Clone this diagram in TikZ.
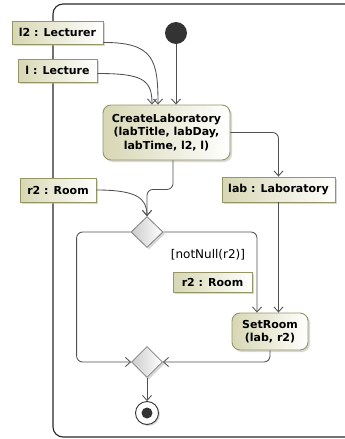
\documentclass[tikz,border=0pt]{standalone}
\usepackage{fontspec}
\setmainfont{DejaVu Sans}
\usetikzlibrary{shapes.geometric,arrows.meta,shadows}
\definecolor{objfill}{RGB}{215,215,180}
\definecolor{objline}{RGB}{150,150,100}
\definecolor{flowline}{RGB}{80,80,80}
\begin{document}
\begin{tikzpicture}[x=1pt,y=-1pt,
  obj/.style={draw=objline,line width=.9pt,left color=objfill,right color=white,
    font=\bfseries\fontsize{11}{13.5}\selectfont,inner sep=0pt,
    drop shadow={shadow xshift=2pt,shadow yshift=-2pt,fill=black!30}},
  act/.style={obj,rounded corners=8pt,align=center},
  decide/.style={diamond,draw=black!50,line width=.8pt,left color=black!20,right color=white,
    minimum width=32pt,minimum height=31pt,inner sep=0pt,
    drop shadow={shadow xshift=2pt,shadow yshift=-2pt,fill=black!30}},
  flow/.style={draw=flowline,line width=.85pt,-{Straight Barb[length=5pt,width=9pt]}}]
  \useasboundingbox (0,0) rectangle (345,439);
  \clip (0,0) rectangle (345,439);
  \draw[black!85,line width=1.1pt,rounded corners=10pt] (53,4) rectangle (370,437);
  \node[circle,fill=black!80,minimum size=22pt,inner sep=0pt] (init) at (176,33) {};
  \node[obj,minimum width=91pt,minimum height=23pt] (lecturer) at (57.5,32.5) {l2 : Lecturer};
  \node[obj,minimum width=79pt,minimum height=23pt] (lecture) at (57.5,70.5) {l : Lecture};
  \node[act,minimum width=127pt,minimum height=55pt] (create) at (166.5,132.5)
    {CreateLaboratory\\(labTitle, labDay,\\labTime, l2, l)};
  \node[obj,minimum width=76pt,minimum height=24pt] (room) at (58,190) {r2 : Room};
  \node[obj,minimum width=113pt,minimum height=25pt] (lab) at (278.5,189.5) {lab : Laboratory};
  \node[decide] (dec) at (147,232) {};
  \node[font=\fontsize{12}{14}\selectfont] (guard) at (208,255) {[notNull(r2)]};
  \node[obj,minimum width=79pt,minimum height=20pt] (roomb) at (212.5,282) {r2 : Room};
  \node[act,minimum width=76pt,minimum height=37pt] (setroom) at (270,331.5) {SetRoom\\(lab, r2)};
  \node[decide,minimum width=31pt] (merge) at (147,362) {};
  \node[circle,draw=black!80,line width=.9pt,fill=white,minimum size=23pt,inner sep=0pt,
    drop shadow={shadow xshift=1.5pt,shadow yshift=-1.5pt,fill=black!30}] (final) at (147,413) {};
  \fill[black!80] (final) circle (5.5);
  \draw[flow] (init) -- (init |- create.north);
  \draw[flow] ([yshift=2pt]lecturer.south east) .. controls +(50,0) and +(0,-45) .. ([xshift=-8.5pt]create.north);
  \draw[flow] ([yshift=-3pt]lecture.east) .. controls +(45,0) and +(0,-25) .. ([xshift=-14.5pt]create.north);
  \draw[flow,rounded corners=6pt] ([xshift=6.5pt]create.south) -- ++(0,29) -| (dec.north);
  \draw[flow] (room.east) .. controls +(40,0) and +(0,-18) .. (dec.north);
  \draw[flow,rounded corners=6pt] (create.east) -| (lab.north);
  \draw[flow] (lab.south) -- (lab.south |- setroom.north);
  \draw[flow,rounded corners=6pt] (dec.east) -| ([xshift=-13pt]setroom.north);
  \draw[flow,rounded corners=6pt] (dec.west) -| ++(-54,130) -- (merge.west);
  \draw[flow,rounded corners=6pt] (setroom.south) |- (merge.east);
  \draw[flow] (merge.south) -- (final.north);
\end{tikzpicture}
\end{document}
